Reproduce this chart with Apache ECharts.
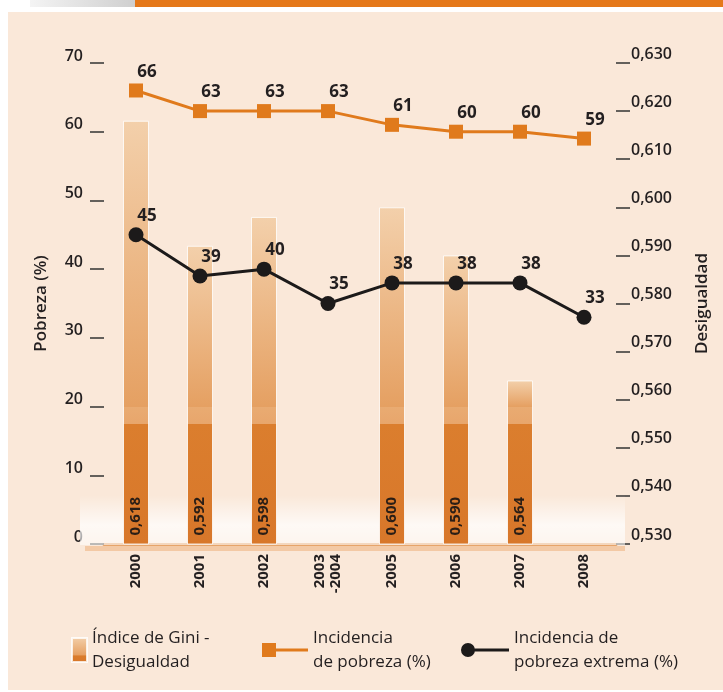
<!DOCTYPE html>
<html><head><meta charset="utf-8">
<script src="https://cdn.jsdelivr.net/npm/echarts@6/dist/echarts.min.js"></script>
<style>html,body{margin:0;padding:0;background:#fff}#c{width:723px;height:692px}</style>
</head><body><div id="c"></div>
<script>
const categories = ['2000','2001','2002','2003\n-2004','2005','2006','2007','2008'];
const giniValues = [0.618, 0.592, 0.598, null, 0.600, 0.590, 0.564, null];
const povertyValues = [66, 63, 63, 63, 61, 60, 60, 59];
const extremePovertyValues = [45, 39, 40, 35, 38, 38, 38, 33];
const leftAxisRange = [0, 70, 10];
const rightAxisRange = [0.53, 0.63, 0.01];
const seriesNames = ['Índice de Gini -\nDesigualdad', 'Incidencia\nde pobreza (%)', 'Incidencia de\npobreza extrema (%)'];
const axisNames = ['Pobreza (%)', 'Desigualdad'];

const FONT = 'Open Sans';
const TXT = '#231f20';
const ORANGE = '#e07a1c';
const DARK = '#1c1a1a';

const chart = echarts.init(document.getElementById('c'));
const fmtComma = v => v.toFixed(3).replace('.', ',');
const legendText = { fontFamily: FONT, fontSize: 17, fontWeight: 500, color: TXT, lineHeight: 24 };

const option = {
  backgroundColor: '#ffffff',
  animation: false,
  graphic: [
    { type: 'rect', z: -10, shape: { x: 8, y: 12, width: 715, height: 678 }, style: { fill: '#fae8d9' } },
    { type: 'rect', z: -10, shape: { x: 135, y: 0, width: 588, height: 7 }, style: { fill: '#e5781a' } },
    { type: 'rect', z: -10, shape: { x: 30, y: 0, width: 105, height: 7 },
      style: { fill: new echarts.graphic.LinearGradient(0, 0, 1, 0, [{offset:0,color:'#f4f4f4'},{offset:1,color:'#cfcfcf'}]) } },
    { type: 'rect', z: 1, shape: { x: 80, y: 495, width: 545, height: 50 },
      style: { fill: new echarts.graphic.LinearGradient(0, 0, 0, 1, [{offset:0,color:'rgba(255,255,255,0)'},{offset:0.6,color:'rgba(255,255,255,0.75)'},{offset:1,color:'rgba(255,255,255,0.55)'}]) } },
    { type: 'rect', z: 1, shape: { x: 85, y: 546, width: 540, height: 5 }, style: { fill: 'rgba(238,180,130,0.6)' } }
  ],
  grid: { left: 104, right: 107, top: 63, bottom: 148 },
  legend: [
    { data: [{ name: seriesNames[0], icon: 'rect' }], left: 66, top: 621, itemWidth: 15, itemHeight: 24, itemGap: 0,
      textStyle: legendText },
    { data: [{ name: seriesNames[1], icon: 'path://M0,0H14V14H0Z M14,5.5H46V8.5H14Z', itemStyle: { color: ORANGE, borderWidth: 0 } }],
      left: 257, top: 621, itemWidth: 46, itemHeight: 14, textStyle: legendText },
    { data: [{ name: seriesNames[2], icon: 'path://M0,7A7,7 0 1,1 14,7A7,7 0 1,1 0,7Z M12,5.5H48V8.5H12Z', itemStyle: { color: DARK, borderWidth: 0 } }],
      left: 456, top: 621, itemWidth: 48, itemHeight: 14, textStyle: legendText }
  ],
  xAxis: {
    type: 'category', data: categories, boundaryGap: true,
    axisLine: { lineStyle: { color: '#e6a46a', width: 3 } },
    axisTick: { show: false },
    axisLabel: { rotate: 90, margin: 10, fontFamily: FONT, fontSize: 15, fontWeight: 'bold', color: TXT, lineHeight: 16 }
  },
  yAxis: [
    { type: 'value', min: leftAxisRange[0], max: leftAxisRange[1], interval: leftAxisRange[2],
      name: axisNames[0], nameLocation: 'middle', nameGap: 54, nameRotate: 90,
      nameTextStyle: { fontFamily: FONT, fontSize: 17, fontWeight: 600, color: TXT },
      axisLine: { show: false },
      axisTick: { show: true, length: 14, lineStyle: { color: '#333', width: 1.5 } },
      axisLabel: { margin: 21, fontFamily: FONT, fontSize: 16, fontWeight: 600, color: TXT, verticalAlign: 'bottom', lineHeight: 14 },
      splitLine: { show: false } },
    { type: 'value', position: 'right', min: rightAxisRange[0], max: rightAxisRange[1], interval: rightAxisRange[2],
      name: axisNames[1], nameLocation: 'middle', nameGap: 78, nameRotate: 90,
      nameTextStyle: { fontFamily: FONT, fontSize: 17, fontWeight: 600, color: TXT },
      axisLine: { show: false },
      axisTick: { show: true, length: 14, lineStyle: { color: '#333', width: 1.5 } },
      axisLabel: { margin: 15, fontFamily: FONT, fontSize: 16, fontWeight: 600, color: TXT, verticalAlign: 'bottom', lineHeight: 18, formatter: fmtComma },
      splitLine: { show: false } }
  ],
  series: [
    { name: seriesNames[0], type: 'bar', yAxisIndex: 1, data: giniValues, barWidth: 26, z: 2,
      itemStyle: { borderColor: 'rgba(255,255,255,0.8)', borderWidth: 1,
        color: new echarts.graphic.LinearGradient(0, 0, 0, 1, [
          {offset:0, color:'#f3d0ab'}, {offset:0.7, color:'#e6a062'}, {offset:0.72, color:'#da7c2c'}, {offset:1, color:'#d8772a'}]) },
      label: { show: true, position: 'insideBottom', rotate: 90, align: 'left', verticalAlign: 'middle', distance: 9,
        formatter: p => fmtComma(p.value), fontFamily: FONT, fontSize: 15, fontWeight: 'bold', color: '#2a1e16' } },
    { name: seriesNames[1], type: 'line', yAxisIndex: 0, data: povertyValues, z: 5,
      symbol: 'rect', symbolSize: 14, lineStyle: { color: ORANGE, width: 3 }, itemStyle: { color: ORANGE },
      label: { show: true, position: 'top', offset: [11, 2], distance: 5, fontFamily: FONT, fontSize: 17, fontWeight: 'bold', color: TXT } },
    { name: seriesNames[2], type: 'line', yAxisIndex: 0, data: extremePovertyValues, z: 5,
      symbol: 'circle', symbolSize: 15, lineStyle: { color: DARK, width: 3 }, itemStyle: { color: DARK },
      label: { show: true, position: 'top', offset: [11, 2], distance: 5, fontFamily: FONT, fontSize: 17, fontWeight: 'bold', color: TXT } }
  ]
};
chart.setOption(option);

// Per-bar gradient: light at each bar top, darker solid section below a fixed level (17.5 on the left scale)
const baseY = chart.convertToPixel({ yAxisIndex: 1 }, rightAxisRange[0]);
const bandTop = chart.convertToPixel({ yAxisIndex: 0 }, 20);
const bandBottom = chart.convertToPixel({ yAxisIndex: 0 }, 17.5);
const barData = giniValues.map(v => {
  if (v == null) return null;
  const topY = chart.convertToPixel({ yAxisIndex: 1 }, v);
  const h = baseY - topY;
  const o1 = Math.max(0, Math.min(1, (bandTop - topY) / h));
  const o2 = Math.max(0, Math.min(1, (bandBottom - topY) / h));
  const stops = [
    { offset: 0, color: '#f3d0ab' },
    { offset: o1, color: '#e5a062' },
    { offset: o1, color: '#e9ab72' },
    { offset: o2, color: '#e8a66c' },
    { offset: o2, color: '#db7e2e' },
    { offset: 1, color: '#d8772a' }
  ];
  return { value: v, itemStyle: { color: new echarts.graphic.LinearGradient(0, 0, 0, 1, stops) } };
});
chart.setOption({ series: [{ data: barData }] });
</script></body></html>
